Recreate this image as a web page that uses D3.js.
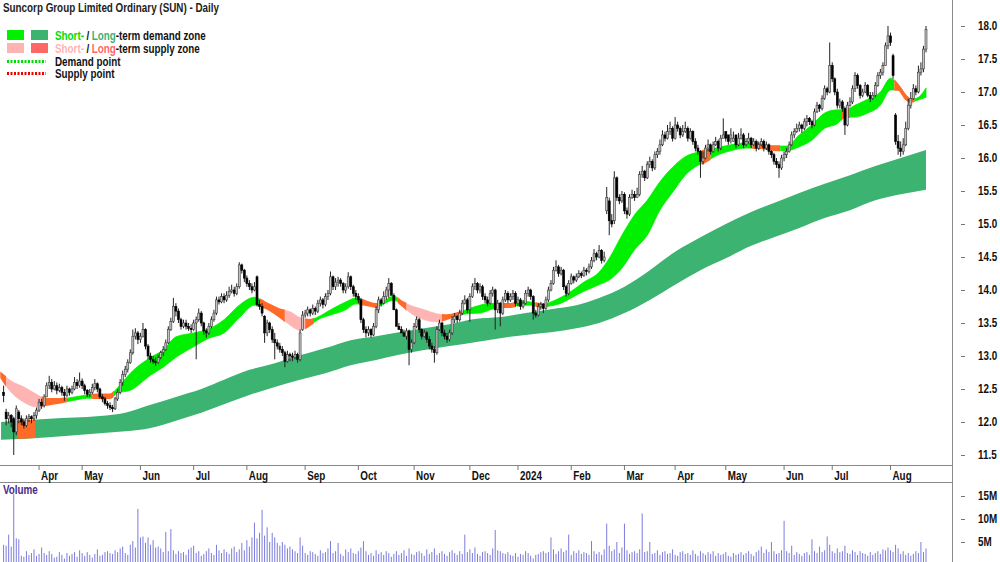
<!DOCTYPE html>
<html>
<head>
<meta charset="utf-8">
<script src="https://cdn.jsdelivr.net/npm/d3@7"></script>
<style>
  body { margin: 0; background: #fff; }
  svg { display: block; font-family: 'Liberation Sans', Arial, sans-serif; }
</style>
</head>
<body>
<svg id="chart" width="1000" height="562"></svg>
<script>
// ---- data (daily candles, first session 14 Mar 2023) ----
const startDate = '2023-03-14';
const holidays = ['2023-04-07', '2023-04-10', '2023-04-25', '2023-06-12', '2023-12-25', '2023-12-26',
  '2024-01-01', '2024-01-26', '2024-03-29', '2024-04-01', '2024-04-25', '2024-06-10'];

const opens = [
  12.45,12.15,12.05,12.10,12.05,11.85,12.15,12.05,12.00,11.95,
  12.05,12.08,12.05,12.10,12.18,12.30,12.25,12.38,12.55,12.60,
  12.50,12.55,12.48,12.52,12.45,12.40,12.50,12.45,12.50,12.60,
  12.55,12.62,12.55,12.48,12.42,12.45,12.52,12.58,12.50,12.38,
  12.35,12.28,12.25,12.22,12.20,12.35,12.45,12.60,12.72,12.80,
  12.90,13.05,13.30,13.35,13.25,13.30,13.40,13.15,13.00,12.95,
  12.92,12.90,12.98,13.05,13.10,13.20,13.40,13.52,13.75,13.68,
  13.55,13.45,13.50,13.45,13.42,13.40,13.50,13.55,13.65,13.50,
  13.38,13.35,13.45,13.55,13.65,13.85,13.82,13.90,13.85,13.92,
  13.98,14.00,13.95,14.05,14.38,14.30,14.18,14.10,14.05,14.00,
  14.20,13.78,13.75,13.60,13.35,13.50,13.40,13.25,13.20,13.15,
  13.10,13.05,12.92,13.02,13.00,12.98,13.02,12.95,13.40,13.62,
  13.65,13.70,13.65,13.72,13.68,13.80,13.85,13.78,13.90,13.95,
  14.20,14.05,14.12,14.15,14.10,14.00,14.05,14.20,14.05,13.95,
  13.90,13.85,13.55,13.40,13.35,13.40,13.32,13.45,13.70,13.85,
  13.80,13.90,14.00,14.10,13.92,13.70,13.45,13.40,13.35,13.30,
  13.38,13.10,13.20,13.45,13.55,13.40,13.30,13.35,13.25,13.15,
  13.10,13.05,13.40,13.50,13.35,13.30,13.25,13.35,13.55,13.60,
  13.55,13.65,13.80,13.85,13.70,13.90,14.05,14.10,14.00,14.05,
  13.90,13.85,13.80,13.95,14.00,13.70,13.80,13.65,13.85,13.95,
  13.85,13.90,13.95,13.80,13.85,13.75,13.80,13.95,14.00,13.90,
  13.65,13.62,13.75,13.78,13.72,13.85,14.00,14.10,14.30,14.35,
  14.25,14.30,14.05,13.95,14.10,14.20,14.15,14.20,14.25,14.22,
  14.30,14.28,14.35,14.45,14.55,14.50,14.60,14.45,15.20,15.35,
  15.05,15.05,15.70,15.40,15.35,15.45,15.20,15.15,15.40,15.45,
  15.40,15.45,15.75,15.80,15.70,15.90,15.95,15.85,16.05,16.10,
  16.20,16.35,16.30,16.40,16.45,16.30,16.50,16.45,16.35,16.40,
  16.45,16.30,16.40,16.25,16.15,16.10,15.95,16.00,16.15,16.20,
  16.10,16.20,16.25,16.15,16.30,16.40,16.35,16.30,16.25,16.35,
  16.20,16.30,16.35,16.20,16.25,16.30,16.20,16.25,16.15,16.20,
  16.25,16.15,16.20,16.10,16.05,15.95,15.90,15.85,16.00,16.05,
  16.10,16.20,16.35,16.40,16.45,16.50,16.45,16.55,16.60,16.55,
  16.50,16.70,16.80,16.75,16.90,17.05,17.00,17.40,17.20,17.00,
  16.80,16.85,16.75,16.50,16.80,16.85,17.05,17.25,17.10,16.95,
  17.00,17.10,16.95,16.90,16.95,17.10,17.25,17.30,17.40,17.70,
  17.85,17.55,16.65,16.25,16.15,16.10,16.20,16.45,16.80,16.90,
  17.05,17.00,17.30,17.35,17.65
];
const highs = [
  12.55,12.20,12.15,12.12,12.08,12.25,12.18,12.10,12.05,12.10,
  12.12,12.10,12.15,12.22,12.35,12.35,12.42,12.60,12.70,12.65,
  12.62,12.60,12.58,12.55,12.50,12.55,12.52,12.55,12.68,12.65,
  12.75,12.66,12.58,12.50,12.50,12.58,12.65,12.60,12.52,12.42,
  12.38,12.32,12.30,12.26,12.38,12.50,12.65,12.78,12.85,12.95,
  13.10,13.40,13.42,13.38,13.35,13.50,13.42,13.18,13.05,13.00,
  12.98,13.02,13.08,13.15,13.25,13.45,13.58,13.88,13.80,13.72,
  13.58,13.55,13.55,13.50,13.48,13.55,13.60,13.72,13.68,13.52,
  13.42,13.50,13.60,13.70,13.90,13.90,13.95,13.95,13.98,14.05,
  14.08,14.05,14.10,14.42,14.40,14.32,14.22,14.15,14.10,14.12,
  14.22,13.85,13.80,13.62,13.55,13.52,13.45,13.35,13.25,13.20,
  13.15,13.08,13.08,13.05,13.05,13.08,13.05,13.40,13.68,13.70,
  13.75,13.72,13.78,13.75,13.85,13.90,13.88,13.95,14.00,14.28,
  14.22,14.18,14.20,14.18,14.12,14.10,14.27,14.22,14.08,14.00,
  13.95,13.88,13.58,13.45,13.45,13.42,13.50,13.75,13.90,13.88,
  13.98,14.05,14.18,14.12,13.95,13.72,13.50,13.45,13.40,13.42,
  13.40,13.25,13.50,13.60,13.58,13.42,13.40,13.38,13.30,13.20,
  13.15,13.45,13.55,13.52,13.40,13.35,13.40,13.60,13.65,13.62,
  13.70,13.85,13.92,13.88,13.95,14.10,14.18,14.12,14.10,14.08,
  13.95,13.90,14.00,14.05,14.02,13.85,13.82,13.90,14.00,13.98,
  13.95,14.00,13.98,13.90,13.88,13.85,14.00,14.05,14.02,13.92,
  13.70,13.80,13.82,13.80,13.90,14.05,14.15,14.35,14.45,14.38,
  14.35,14.32,14.08,14.15,14.25,14.22,14.25,14.30,14.28,14.35,
  14.33,14.40,14.50,14.62,14.58,14.68,14.62,14.58,15.56,15.40,
  15.15,15.80,15.72,15.45,15.50,15.48,15.25,15.45,15.52,15.50,
  15.55,15.80,15.88,15.82,15.95,16.02,15.98,16.10,16.15,16.28,
  16.42,16.40,16.50,16.55,16.48,16.62,16.55,16.48,16.50,16.55,
  16.48,16.45,16.42,16.30,16.20,16.12,16.10,16.20,16.28,16.22,
  16.25,16.32,16.28,16.35,16.60,16.40,16.35,16.45,16.40,16.32,
  16.38,16.45,16.38,16.30,16.38,16.32,16.30,16.28,16.25,16.30,
  16.28,16.25,16.22,16.12,16.08,16.00,15.95,16.05,16.10,16.15,
  16.25,16.40,16.45,16.52,16.55,16.52,16.60,16.65,16.62,16.58,
  16.75,16.85,16.82,16.95,17.10,17.08,17.75,17.45,17.22,17.05,
  16.90,16.88,16.78,16.85,16.92,17.10,17.30,17.28,17.12,17.05,
  17.15,17.12,17.00,17.00,17.15,17.30,17.35,17.45,17.75,18.00,
  17.90,17.58,16.68,16.35,16.25,16.30,16.55,16.90,17.00,17.12,
  17.10,17.40,17.45,17.70,18.00
];
const lows = [
  12.30,11.95,11.98,11.92,11.50,11.80,11.98,11.95,11.90,11.92,
  12.00,11.98,12.02,12.05,12.15,12.20,12.22,12.38,12.50,12.45,
  12.48,12.42,12.45,12.40,12.32,12.38,12.40,12.42,12.48,12.50,
  12.52,12.50,12.42,12.38,12.38,12.42,12.48,12.45,12.35,12.30,
  12.25,12.20,12.18,12.15,12.18,12.32,12.42,12.55,12.68,12.75,
  12.88,13.02,13.25,13.18,13.20,13.28,13.10,12.95,12.90,12.88,
  12.85,12.88,12.95,13.00,13.08,13.18,13.38,13.50,13.60,13.50,
  13.40,13.42,13.40,13.38,13.35,13.38,12.95,13.52,13.45,13.32,
  13.28,13.32,13.42,13.52,13.62,13.78,13.80,13.80,13.82,13.88,
  13.95,13.90,13.92,14.02,14.25,14.12,14.05,14.00,13.95,13.98,
  13.75,13.70,13.60,13.20,13.30,13.35,13.20,12.95,13.10,13.05,
  13.00,12.83,12.90,12.92,12.92,12.95,12.90,12.92,13.38,13.58,
  13.60,13.60,13.62,13.62,13.65,13.75,13.72,13.75,13.85,13.92,
  14.00,14.00,14.05,14.05,13.95,13.95,14.02,14.00,13.90,13.85,
  13.80,13.50,13.35,13.28,13.30,13.28,13.30,13.42,13.65,13.75,
  13.78,13.85,13.88,13.98,13.88,13.65,13.40,13.35,13.30,13.25,
  12.86,13.05,13.18,13.42,13.35,13.25,13.28,13.20,13.10,13.05,
  12.90,13.02,13.38,13.30,13.25,13.20,13.22,13.32,13.50,13.50,
  13.52,13.62,13.78,13.65,13.52,13.88,14.00,13.95,13.95,13.85,
  13.80,13.75,13.78,13.90,13.40,13.65,13.45,13.62,13.82,13.80,
  13.82,13.85,13.75,13.75,13.70,13.72,13.78,13.90,13.85,13.55,
  13.58,13.60,13.70,13.65,13.70,13.82,13.98,14.08,14.28,14.20,
  14.22,14.00,13.90,13.92,14.08,14.10,14.12,14.18,14.18,14.20,
  14.22,14.25,14.32,14.42,14.45,14.48,14.40,14.42,15.15,14.83,
  14.95,15.00,15.35,15.30,15.32,15.15,15.08,15.12,15.38,15.35,
  15.40,15.42,15.70,15.65,15.68,15.85,15.80,15.82,16.00,16.05,
  16.18,16.25,16.28,16.35,16.25,16.28,16.40,16.30,16.32,16.38,
  16.25,16.28,16.20,16.10,16.05,15.70,15.90,15.98,16.10,16.05,
  16.08,16.18,16.10,16.12,16.30,16.25,16.20,16.22,16.25,16.15,
  16.18,16.28,16.15,16.18,16.22,16.15,16.18,16.10,16.12,16.18,
  16.10,16.12,16.05,16.00,15.90,15.85,15.70,15.82,15.95,16.00,
  16.08,16.18,16.30,16.38,16.40,16.38,16.42,16.48,16.50,16.45,
  16.48,16.68,16.70,16.72,16.88,16.95,16.98,17.15,16.95,16.75,
  16.75,16.70,16.35,16.48,16.78,16.82,17.00,17.05,16.90,16.92,
  16.98,16.92,16.85,16.88,16.92,17.08,17.20,17.25,17.40,17.65,
  17.70,17.20,16.20,16.05,16.02,16.05,16.18,16.42,16.75,16.88,
  16.95,16.98,17.25,17.30,17.60
];
const closes = [
  12.40,12.05,12.10,12.00,11.85,12.20,12.05,12.00,11.95,12.05,
  12.08,12.05,12.10,12.18,12.30,12.25,12.38,12.55,12.60,12.50,
  12.55,12.48,12.52,12.45,12.40,12.50,12.45,12.50,12.60,12.55,
  12.62,12.55,12.48,12.42,12.45,12.52,12.58,12.50,12.38,12.35,
  12.28,12.25,12.22,12.20,12.35,12.45,12.60,12.72,12.80,12.90,
  13.05,13.30,13.35,13.25,13.30,13.40,13.15,13.00,12.95,12.92,
  12.90,12.98,13.05,13.10,13.20,13.40,13.52,13.75,13.68,13.55,
  13.45,13.50,13.45,13.42,13.40,13.50,13.55,13.65,13.50,13.38,
  13.35,13.45,13.55,13.65,13.85,13.82,13.90,13.85,13.92,13.98,
  14.00,13.95,14.05,14.38,14.30,14.18,14.10,14.05,14.00,14.05,
  13.78,13.75,13.65,13.35,13.50,13.40,13.25,13.20,13.15,13.10,
  13.05,12.92,13.02,13.00,12.98,13.02,12.95,13.35,13.62,13.65,
  13.70,13.65,13.72,13.68,13.80,13.85,13.78,13.90,13.95,14.20,
  14.05,14.12,14.15,14.10,14.00,14.05,14.20,14.05,13.95,13.90,
  13.85,13.55,13.40,13.35,13.40,13.32,13.45,13.70,13.85,13.80,
  13.90,14.00,14.10,13.92,13.70,13.45,13.40,13.35,13.30,13.38,
  13.10,13.20,13.45,13.55,13.40,13.30,13.35,13.25,13.15,13.10,
  13.05,13.40,13.50,13.35,13.30,13.25,13.35,13.55,13.60,13.55,
  13.65,13.80,13.85,13.70,13.90,14.05,14.10,14.00,14.05,13.90,
  13.85,13.80,13.95,14.00,13.70,13.80,13.65,13.85,13.95,13.85,
  13.90,13.95,13.80,13.85,13.75,13.80,13.95,14.00,13.90,13.65,
  13.62,13.75,13.78,13.72,13.85,14.00,14.10,14.30,14.35,14.25,
  14.30,14.05,13.95,14.10,14.20,14.15,14.20,14.25,14.22,14.30,
  14.28,14.35,14.45,14.55,14.50,14.60,14.45,14.50,15.40,15.05,
  15.00,15.70,15.40,15.35,15.45,15.20,15.15,15.40,15.45,15.40,
  15.45,15.75,15.80,15.70,15.90,15.95,15.85,16.05,16.10,16.20,
  16.35,16.30,16.40,16.45,16.30,16.50,16.45,16.35,16.40,16.45,
  16.30,16.40,16.25,16.15,16.10,15.95,16.00,16.15,16.20,16.10,
  16.20,16.25,16.15,16.30,16.35,16.30,16.25,16.35,16.30,16.20,
  16.30,16.35,16.20,16.25,16.30,16.20,16.25,16.15,16.20,16.25,
  16.15,16.20,16.10,16.05,15.95,15.90,15.85,16.00,16.05,16.10,
  16.20,16.35,16.40,16.45,16.50,16.45,16.55,16.60,16.55,16.50,
  16.70,16.80,16.75,16.90,17.05,17.00,17.40,17.20,17.00,16.80,
  16.85,16.75,16.50,16.80,16.85,17.05,17.25,17.10,16.95,17.00,
  17.10,16.95,16.90,16.95,17.10,17.25,17.30,17.40,17.70,17.85,
  17.75,17.25,16.25,16.15,16.10,16.20,16.45,16.80,16.90,17.05,
  17.00,17.30,17.35,17.65,17.95
];
// volume in millions of shares
const volumes = [
  4.4,4.2,6.6,4.0,15.4,5.8,5.6,2.0,1.8,3.0,
  2.2,2.6,3.4,2.0,2.4,3.8,2.6,2.2,3.0,2.4,
  1.6,1.8,2.8,2.2,1.4,2.6,2.0,2.4,2.8,1.8,
  3.2,2.6,2.0,2.8,2.2,1.6,2.4,3.4,2.0,2.2,
  2.8,3.0,2.6,2.4,3.2,2.8,3.6,4.0,2.6,2.2,
  4.4,5.2,3.8,12.2,6.0,6.2,4.8,6.0,4.4,5.4,
  3.8,4.0,3.6,2.8,7.2,3.0,7.8,3.2,2.4,3.0,
  2.6,2.8,2.2,3.4,3.8,4.2,2.6,3.0,2.0,2.4,
  3.0,3.6,2.6,2.2,4.4,3.2,2.6,3.4,2.8,2.4,
  3.6,4.0,2.8,3.4,4.8,3.2,5.4,4.0,6.0,9.2,
  5.8,7.0,12.0,6.4,8.2,5.0,7.0,6.0,4.8,4.2,
  5.0,4.4,3.6,4.0,3.4,3.0,2.6,6.0,4.2,2.6,
  2.2,3.0,2.8,2.4,2.0,3.2,2.6,2.8,3.6,5.2,
  2.6,3.0,4.8,2.4,2.0,3.4,2.8,3.6,2.6,2.4,
  3.0,3.8,5.2,3.0,2.2,2.6,2.0,3.2,2.4,2.8,
  2.2,3.0,2.6,1.8,2.4,3.0,2.2,2.6,3.2,2.0,
  3.6,2.4,2.2,2.8,3.0,2.6,2.0,3.4,2.4,2.8,
  3.6,2.2,2.6,3.0,2.4,2.0,2.8,3.2,2.6,2.2,
  3.0,2.4,6.6,2.8,3.4,2.6,3.8,2.4,2.0,2.8,
  3.0,2.6,2.2,3.6,7.6,3.2,3.0,2.6,2.4,2.8,
  2.2,2.0,2.6,1.8,2.4,2.2,3.0,2.6,2.0,1.4,
  2.2,2.4,2.8,3.0,2.6,2.8,6.0,3.4,2.4,3.0,
  3.6,2.8,3.2,6.6,2.2,3.0,2.6,3.2,2.4,2.8,
  2.6,2.2,5.2,3.0,2.4,2.8,2.2,3.4,9.0,4.2,
  3.0,3.4,5.0,2.6,3.8,9.0,3.2,2.4,2.8,3.0,
  2.6,3.4,11.2,2.8,3.0,5.0,2.4,2.6,3.2,2.2,
  2.8,3.0,2.4,2.6,3.4,2.2,2.0,2.8,3.0,2.4,
  2.6,2.2,3.2,2.4,2.0,3.0,2.6,2.2,2.8,2.4,
  3.0,2.0,2.6,2.2,2.4,2.8,2.0,1.8,2.6,2.2,
  2.4,2.8,2.2,2.6,3.0,2.4,2.0,2.8,3.2,4.0,
  2.6,3.4,2.8,5.0,3.0,2.4,2.6,3.2,9.6,3.0,
  2.6,4.2,2.2,2.8,2.4,2.0,2.6,2.8,2.2,5.6,
  3.0,2.6,4.0,2.8,3.2,6.2,4.4,3.0,2.6,3.6,
  2.8,3.0,4.2,2.6,2.4,3.2,2.8,2.2,3.0,2.6,
  2.4,2.0,2.8,2.2,2.6,3.0,2.4,3.4,3.2,3.8,
  3.2,2.8,4.4,3.6,2.4,3.0,2.2,2.6,2.0,2.4,
  3.0,2.6,5.0,2.8,3.6
];

// short-term zone: sample session index, upper / lower edge, zone code (g demand, p supply, o supply edge)
const shortIdx = [-1,3,8,13,17,22,28,33,37,42,45,50,58,63,68,75,81,87,93,99,
  103,109,113,117,121,124,129,135,139,143,147,150,154,157,161,166,171,175,179,183,
  188,192,196,200,204,208,212,216,220,224,229,235,239,244,249,254,259,264,269,274,
  277,281,287,293,298,304,309,314,319,324,329,332,336,341,346,350,353,356,358,361,364];
const shortTop = [12.74,12.62,12.53,12.42,12.35,12.35,12.38,12.41,12.42,12.42,12.52,12.74,12.98,13.09,13.29,13.35,13.41,13.55,13.77,13.89,
  13.82,13.71,13.67,13.58,13.55,13.59,13.70,13.82,13.88,13.83,13.79,13.83,13.91,13.83,13.76,13.70,13.64,13.62,13.65,13.71,
  13.77,13.80,13.79,13.79,13.83,13.82,13.79,13.82,13.89,13.98,14.12,14.27,14.48,14.83,15.14,15.36,15.64,15.86,16.02,16.09,
  16.12,16.15,16.20,16.23,16.21,16.18,16.18,16.35,16.50,16.68,16.73,16.73,16.80,16.89,17.00,17.21,17.11,16.95,16.89,16.92,17.06];
const shortBot = [12.67,12.45,12.30,12.23,12.26,12.29,12.33,12.36,12.36,12.36,12.44,12.48,12.71,12.83,12.98,13.14,13.27,13.35,13.58,13.77,
  13.73,13.59,13.47,13.39,13.47,13.55,13.62,13.70,13.79,13.77,13.74,13.79,13.85,13.77,13.64,13.55,13.52,13.56,13.61,13.64,
  13.65,13.70,13.74,13.74,13.77,13.77,13.74,13.76,13.80,13.88,13.98,14.08,14.15,14.33,14.61,14.83,15.21,15.48,15.74,15.89,
  15.94,16.03,16.11,16.15,16.15,16.12,16.11,16.17,16.27,16.45,16.52,16.62,16.62,16.68,16.80,17.03,17.03,16.89,16.85,16.88,16.92];
const shortZone = 'opppooggoogggggggggg' + 'ooppoggggooggopppoog' + 'ggooggoggggggggggggg' + 'ogggooggggg' + 'oggggooogg';

// long-term zone
const longIdx = [-1,18,38,48,58,68,78,87,97,107,117,127,137,147,156,166,176,186,196,206,
  216,226,235,245,255,265,275,285,295,304,314,324,334,344,354,364];
const longTop = [12.00,12.05,12.09,12.14,12.26,12.38,12.50,12.64,12.79,12.89,13.01,13.12,13.24,13.30,13.36,13.42,13.48,13.56,13.59,13.65,
  13.71,13.77,13.88,14.05,14.30,14.58,14.80,15.00,15.18,15.32,15.47,15.61,15.74,15.88,16.00,16.12];
const longBot = [11.73,11.77,11.83,11.86,11.91,12.02,12.14,12.27,12.41,12.53,12.64,12.74,12.86,12.94,13.02,13.09,13.15,13.21,13.27,13.32,
  13.36,13.42,13.50,13.65,13.85,14.08,14.30,14.48,14.67,14.80,14.94,15.09,15.21,15.36,15.45,15.52];
const longSupply = [6, 12];

const priceTicks = [11.5, 12, 12.5, 13, 13.5, 14, 14.5, 15, 15.5, 16, 16.5, 17, 17.5, 18];
const volTicks = [5, 10, 15];
const monthNames = ['Jan', 'Feb', 'Mar', 'Apr', 'May', 'Jun', 'Jul', 'Aug', 'Sep', 'Oct', 'Nov', 'Dec'];

const colors = {
  g: '#00f000', p: '#ffb4b4', o: '#ff6a28',
  long: '#3cb371', longSupply: '#ff6a28', supplyText: '#ff6666',
  vol: '#7c7cdc', axis: '#8a8a8a'
};
const SQUEEZE = 0.82; // the original uses a condensed face

// ---- trading calendar ----
const n = closes.length;
const dates = [];
let d = new Date(startDate + 'T00:00:00');
while (dates.length < n) {
  const iso = d3.timeFormat('%Y-%m-%d')(d);
  if (d.getDay() !== 0 && d.getDay() !== 6 && !holidays.includes(iso)) dates.push(new Date(d));
  d.setDate(d.getDate() + 1);
}

const svg = d3.select('#chart');
svg.append('rect').attr('width', 1000).attr('height', 562).attr('fill', '#fff');

const x = d3.scaleLinear().domain([0, n - 1]).range([3.6, 926]);
const y = d3.scaleLinear().domain([11.5, 18]).range([455, 26]);
const yVol = d3.scaleLinear().domain([0, 15]).range([565, 496]);

// ---- zones ----
const plot = svg.append('g');
const defs = svg.append('defs');
let clipId = 0;
function clipped(x0, x1) {
  const id = 'clip' + (clipId++);
  defs.append('clipPath').attr('id', id)
    .append('rect').attr('x', x0).attr('y', 0).attr('width', x1 - x0).attr('height', 470);
  return 'url(#' + id + ')';
}

const longArea = d3.area()
  .x((k) => x(k))
  .y0((k, i) => y(longBot[i]))
  .y1((k, i) => y(longTop[i]))
  .curve(d3.curveMonotoneX);

plot.append('path').datum(longIdx).attr('d', longArea).attr('fill', colors.long);
plot.append('path').datum(longIdx).attr('d', longArea)
  .attr('fill', colors.longSupply)
  .attr('clip-path', clipped(x(longSupply[0] - 0.5), x(longSupply[1] + 0.5)));

const shortArea = d3.area()
  .x((k) => x(k))
  .y0((k, i) => y(shortBot[i]))
  .y1((k, i) => y(shortTop[i]))
  .curve(d3.curveMonotoneX);

// group consecutive samples with the same zone code
const runs = [];
let runStart = 0;
for (let i = 1; i <= shortIdx.length; i++) {
  if (i === shortIdx.length || shortZone[i] !== shortZone[runStart]) {
    runs.push({ code: shortZone[runStart], from: runStart, to: i - 1 });
    runStart = i;
  }
}
runs.forEach((r) => {
  const x0 = r.from === 0 ? 0 : (x(shortIdx[r.from - 1]) + x(shortIdx[r.from])) / 2;
  const x1 = r.to === shortIdx.length - 1 ? 960 : (x(shortIdx[r.to]) + x(shortIdx[r.to + 1])) / 2;
  plot.append('path').datum(shortIdx).attr('d', shortArea)
    .attr('fill', colors[r.code])
    .attr('stroke', colors[r.code])
    .attr('stroke-width', r.code === 'o' ? 1.6 : 0.8)
    .attr('clip-path', clipped(x0, x1));
});

// ---- candles ----
const candles = plot.append('g')
  .selectAll('g')
  .data(d3.range(n))
  .enter()
  .append('g');

candles.append('line')
  .attr('x1', (i) => x(i)).attr('x2', (i) => x(i))
  .attr('y1', (i) => y(highs[i])).attr('y2', (i) => y(lows[i]))
  .attr('stroke', '#222').attr('stroke-width', 1);

candles.append('rect')
  .attr('x', (i) => x(i) - 1)
  .attr('width', 2)
  .attr('y', (i) => y(Math.max(opens[i], closes[i])))
  .attr('height', (i) => Math.max(1, Math.abs(y(opens[i]) - y(closes[i]))))
  .attr('fill', (i) => closes[i] >= opens[i] ? '#c4c4c4' : '#000')
  .attr('stroke', (i) => closes[i] >= opens[i] ? '#3a3a3a' : '#000')
  .attr('stroke-width', 0.6);

// ---- frame / axes ----
svg.append('line').attr('x1', 952.5).attr('x2', 952.5).attr('y1', 0).attr('y2', 562)
  .attr('stroke', colors.axis);
svg.append('line').attr('x1', 0).attr('x2', 952).attr('y1', 465.5).attr('y2', 465.5)
  .attr('stroke', colors.axis);
svg.append('line').attr('x1', 0).attr('x2', 952).attr('y1', 482.5).attr('y2', 482.5)
  .attr('stroke', colors.axis);

const priceAxis = svg.append('g')
  .attr('transform', 'translate(961,0)')
  .call(d3.axisRight(y).tickValues(priceTicks).tickFormat(d3.format('.1f')).tickSize(4).tickPadding(13));
priceAxis.select('.domain').remove();

const volAxis = svg.append('g')
  .attr('transform', 'translate(961,0)')
  .call(d3.axisRight(yVol).tickValues(volTicks).tickFormat((v) => v + 'M').tickSize(4).tickPadding(13));
volAxis.select('.domain').remove();

svg.selectAll('.tick line').attr('stroke', '#777');
svg.selectAll('.tick text')
  .attr('font-family', "'Liberation Sans', Arial, sans-serif")
  .attr('font-size', 12).attr('font-weight', 'bold').attr('fill', '#111');

// month ticks at the first session of each month
const monthStarts = d3.range(1, n).filter((i) => dates[i].getMonth() !== dates[i - 1].getMonth());
const months = svg.append('g');
months.selectAll('line').data(monthStarts).enter().append('line')
  .attr('x1', (i) => x(i)).attr('x2', (i) => x(i))
  .attr('y1', 465).attr('y2', 470)
  .attr('stroke', '#777');
months.selectAll('text').data(monthStarts).enter().append('text')
  .attr('x', (i) => x(i) + 2)
  .attr('y', 480)
  .attr('font-size', 12).attr('font-weight', 'bold').attr('fill', '#111')
  .text((i) => dates[i].getMonth() === 0 ? String(dates[i].getFullYear()) : monthNames[dates[i].getMonth()]);

// ---- volume ----
svg.append('g').selectAll('line').data(d3.range(n)).enter().append('line')
  .attr('x1', (i) => x(i)).attr('x2', (i) => x(i))
  .attr('y1', 562).attr('y2', (i) => yVol(volumes[i]))
  .attr('stroke', colors.vol).attr('stroke-width', 1);

svg.append('text').attr('x', 3).attr('y', 494)
  .attr('font-size', 12).attr('font-weight', 'bold').attr('fill', '#4b2a8c')
  .text('Volume');

// ---- title & legend ----
svg.append('text').attr('x', 3).attr('y', 12)
  .attr('font-size', 12).attr('font-weight', 'bold').attr('fill', '#222')
  .text('Suncorp Group Limited Ordinary (SUN) - Daily');

// squeeze the plain labels drawn so far
svg.selectAll('text').each(function () {
  const w = this.getComputedTextLength();
  if (w > 0) d3.select(this).attr('textLength', w * SQUEEZE).attr('lengthAdjust', 'spacingAndGlyphs');
});

const legend = svg.append('g').attr('font-size', 12).attr('font-weight', 'bold');
legend.append('rect').attr('x', 7).attr('y', 30).attr('width', 17).attr('height', 10).attr('fill', colors.g);
legend.append('rect').attr('x', 31).attr('y', 30).attr('width', 17).attr('height', 10).attr('fill', colors.long);
legend.append('rect').attr('x', 7).attr('y', 43).attr('width', 17).attr('height', 10).attr('fill', colors.p);
legend.append('rect').attr('x', 31).attr('y', 43).attr('width', 17).attr('height', 10).attr('fill', colors.supplyText);
legend.append('line').attr('x1', 7).attr('x2', 46).attr('y1', 61.5).attr('y2', 61.5)
  .attr('stroke', '#00dd00').attr('stroke-width', 3).attr('stroke-dasharray', '2,1.5');
legend.append('line').attr('x1', 7).attr('x2', 46).attr('y1', 73.5).attr('y2', 73.5)
  .attr('stroke', '#ee0000').attr('stroke-width', 3).attr('stroke-dasharray', '2,1.5');

// each coloured piece is its own text, laid out at natural width inside a horizontally squeezed group
function legendLine(yPos, pieces) {
  const row = legend.append('g').attr('transform', 'translate(55,' + yPos + ') scale(' + SQUEEZE + ',1)');
  let cx = 0;
  pieces.forEach(([str, fill, gapAfter]) => {
    const t = row.append('text').attr('x', cx).attr('y', 0).attr('fill', fill).text(str);
    cx += t.node().getComputedTextLength() + gapAfter;
  });
}
legendLine(40, [['Short-', '#00dd00', 3], ['/', '#111', 3], ['Long', colors.long, 0], ['-term demand zone', '#111', 0]]);
legendLine(53, [['Short-', colors.p, 3], ['/', '#111', 3], ['Long', colors.supplyText, 0], ['-term supply zone', '#111', 0]]);
legendLine(66, [['Demand point', '#111', 0]]);
legendLine(78, [['Supply point', '#111', 0]]);

if ([opens, highs, lows, volumes].some((a) => a.length !== n) || shortTop.length !== shortIdx.length
  || shortBot.length !== shortIdx.length || shortZone.length !== shortIdx.length || longTop.length !== longIdx.length) {
  throw new Error('length mismatch ' + [n, opens.length, highs.length, lows.length, volumes.length,
    shortIdx.length, shortTop.length, shortBot.length, shortZone.length, longIdx.length, longTop.length, longBot.length].join(','));
}
</script>
</body>
</html>
